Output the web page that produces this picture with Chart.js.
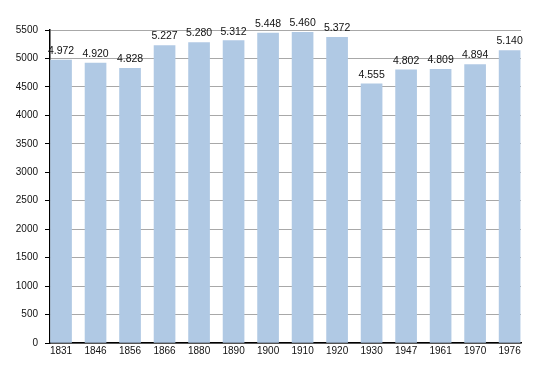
<!DOCTYPE html>
<html>
<head>
<meta charset="utf-8">
<script src="https://cdn.jsdelivr.net/npm/chart.js@4/dist/chart.umd.min.js"></script>
<style>
  html, body { margin: 0; padding: 0; background: #fff; }
  #wrap { width: 550px; height: 373px; }
</style>
</head>
<body>
<div id="wrap"><canvas id="myChart"></canvas></div>
<script>
const years = ['1831', '1846', '1856', '1866', '1880', '1890', '1900', '1910', '1920', '1930', '1947', '1961', '1970', '1976'];
const population = [4972, 4920, 4828, 5227, 5280, 5312, 5448, 5460, 5372, 4555, 4802, 4809, 4894, 5140];
const valueLabels = ['4.972', '4.920', '4.828', '5.227', '5.280', '5.312', '5.448', '5.460', '5.372', '4.555', '4.802', '4.809', '4.894', '5.140'];

const font = { family: '"Liberation Sans", Arial, sans-serif', size: 10 };
const isMajor = v => v % 500 === 0;

// numbers on top of each bar + short minor tick marks on the y axis
const barValues = {
  id: 'barValues',
  afterDraw(chart) {
    const ctx = chart.ctx;
    const y = chart.scales.y;
    ctx.save();
    ctx.strokeStyle = '#000';
    ctx.lineWidth = 1;
    y.ticks.forEach(t => {
      if (isMajor(t.value)) return;
      const py = Math.round(y.getPixelForValue(t.value)) + 0.5;
      ctx.beginPath();
      ctx.moveTo(y.right - 3, py);
      ctx.lineTo(y.right, py);
      ctx.stroke();
    });
    ctx.font = '10.5px "Liberation Sans", Arial, sans-serif';
    ctx.fillStyle = '#111';
    ctx.textAlign = 'center';
    ctx.textBaseline = 'middle';
    chart.getDatasetMeta(0).data.forEach((bar, i) => {
      ctx.fillText(valueLabels[i], bar.x, bar.y - 9);
    });
    ctx.restore();
  }
};

new Chart(document.getElementById('myChart').getContext('2d'), {
  type: 'bar',
  data: {
    datasets: [{
      data: years.map((y, i) => ({ x: i, y: population[i] })),
      backgroundColor: '#b0c9e4',
      barThickness: 21
    }]
  },
  options: {
    responsive: true,
    maintainAspectRatio: false,
    animation: false,
    layout: { padding: { left: 0, top: 30, right: 29, bottom: 0 } },
    plugins: { legend: { display: false }, tooltip: { enabled: false } },
    scales: {
      x: {
        type: 'linear',
        offset: false,
        min: -0.32,
        max: 13.33,
        afterFit: s => { s.height = 30; },
        grid: { display: false, drawTicks: false },
        border: { display: true, color: '#000', width: 1.5 },
        ticks: {
          stepSize: 1,
          includeBounds: false,
          autoSkip: false,
          maxRotation: 0,
          padding: 2,
          color: '#111',
          font: font,
          callback: v => years[v] ?? ''
        }
      },
      y: {
        min: 0,
        max: 5500,
        afterFit: s => { s.width = 50; },
        border: { display: true, color: '#000', width: 1.5 },
        grid: {
          color: c => (c.tick && isMajor(c.tick.value)) ? '#a8a8a8' : '#e6e6e6',
          tickColor: c => (c.tick && isMajor(c.tick.value)) ? '#000' : 'rgba(0,0,0,0)',
          tickLength: 5
        },
        ticks: {
          stepSize: 250,
          padding: 7,
          color: '#111',
          font: font,
          callback: v => (isMajor(v) ? v : '')
        }
      }
    }
  },
  plugins: [barValues]
});
</script>
</body>
</html>
